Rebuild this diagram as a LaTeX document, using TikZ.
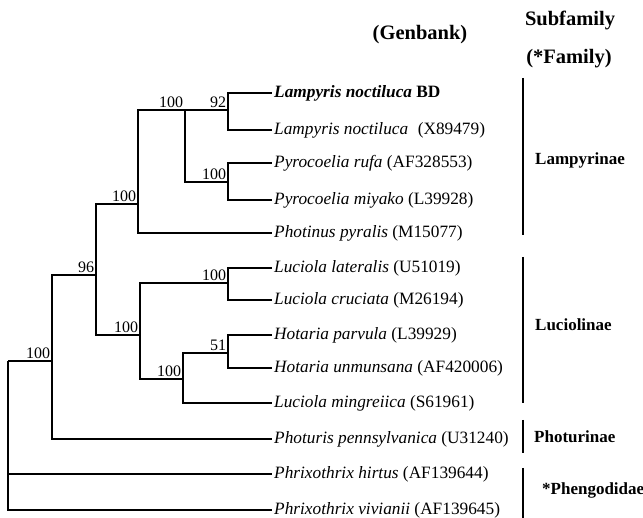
\documentclass[tikz,border=0pt]{standalone}
\usepackage{fontspec}
\setmainfont{Liberation Serif}
\tikzset{
  branch/.style={line width=1.7pt},
  taxon/.style={anchor=west, inner sep=2pt, font=\fontsize{17.3}{20}\selectfont\itshape},
  boot/.style={anchor=south east, inner sep=1pt, font=\fontsize{16}{18}\selectfont},
  cladebar/.style={line width=2.6pt},
  cladename/.style={anchor=west, inner sep=0pt, font=\fontsize{17}{20}\selectfont\bfseries},
  head/.style={font=\fontsize{20.5}{24}\selectfont\bfseries}
}
\begin{document}
\begin{tikzpicture}[x=1pt,y=-1pt]
\useasboundingbox (0,0) rectangle (643,518);

\coordinate (root) at (8,361);
\coordinate (n1) at (52,361);
\coordinate (n2) at (96,275);
\coordinate (lam) at (138,204);
\coordinate (n3) at (185,110);
\coordinate (n92) at (228,110);
\coordinate (pyr) at (228,182);
\coordinate (luc) at (140,335);
\coordinate (lat) at (228,283);
\coordinate (n4) at (183,379);
\coordinate (n51) at (228,353);

\node[taxon] (bd) at (272,93) {\bfseries Lampyris noctiluca \upshape BD};
\node[taxon] (x894) at (272,130) {Lampyris noctiluca \hspace{0.3em}\textup{(X89479)}};
\node[taxon] (rufa) at (272,163) {Pyrocoelia rufa \textup{(AF328553)}};
\node[taxon] (miyako) at (272,200) {Pyrocoelia miyako \textup{(L39928)}};
\node[taxon] (pyralis) at (272,233) {Photinus pyralis \textup{(M15077)}};
\node[taxon] (lateralis) at (272,268) {Luciola lateralis \textup{(U51019)}};
\node[taxon] (cruciata) at (272,300) {Luciola cruciata \textup{(M26194)}};
\node[taxon] (parvula) at (272,335) {Hotaria parvula \textup{(L39929)}};
\node[taxon] (unmunsana) at (272,368) {Hotaria unmunsana \textup{(AF420006)}};
\node[taxon] (mingreiica) at (272,403) {Luciola mingreiica \textup{(S61961)}};
\node[taxon] (pennsyl) at (272,439) {Photuris pennsylvanica \textup{(U31240)}};
\node[taxon] (hirtus) at (272,474) {Phrixothrix hirtus \textup{(AF139644)}};
\node[taxon] (vivianii) at (272,510) {Phrixothrix vivianii \textup{(AF139645)}};

\draw[branch] (root) |- node[boot, pos=1] (b1) {100} (n1);
\draw[branch] (root) |- (hirtus.west);
\draw[branch] (root) |- (vivianii.west);
\draw[branch] (n1) |- node[boot, pos=1] (b2) {96} (n2);
\draw[branch] (n1) |- (pennsyl.west);
\draw[branch] (n2) |- node[boot, pos=1] (b3) {100} (lam);
\draw[branch] (n2) |- node[boot, pos=1] (b4) {100} (luc);
\draw[branch] (lam) |- node[boot, pos=1] (b5) {100} (n3);
\draw[branch] (lam) |- (pyralis.west);
\draw[branch] (n3) |- node[boot, pos=1] (b6) {92} (n92);
\draw[branch] (n3) |- node[boot, pos=1] (b7) {100} (pyr);
\draw[branch] (n92) |- (bd.west);
\draw[branch] (n92) |- (x894.west);
\draw[branch] (pyr) |- (rufa.west);
\draw[branch] (pyr) |- (miyako.west);
\draw[branch] (luc) |- node[boot, pos=1] (b8) {100} (lat);
\draw[branch] (luc) |- node[boot, pos=1] (b9) {100} (n4);
\draw[branch] (lat) |- (lateralis.west);
\draw[branch] (lat) |- (cruciata.west);
\draw[branch] (n4) |- node[boot, pos=1] (b10) {51} (n51);
\draw[branch] (n4) |- (mingreiica.west);
\draw[branch] (n51) |- (parvula.west);
\draw[branch] (n51) |- (unmunsana.west);

\node[head] (genbank) at (420,35) {(Genbank)};
\node[head] (subfam) at (570,20) {Subfamily};
\node[head] (family) at (569,59) {(*Family)};

\coordinate (lamT) at (523,78);
\coordinate (lamB) at (523,235);
\coordinate (lucT) at (523,257);
\coordinate (lucB) at (523,403);
\coordinate (phoT) at (523,420);
\coordinate (phoB) at (523,453);
\coordinate (phgT) at (523,468);
\coordinate (phgB) at (523,518);
\draw[cladebar] (lamT) -- (lamB);
\draw[cladebar] (lucT) -- (lucB);
\draw[cladebar] (phoT) -- (phoB);
\draw[cladebar] (phgT) -- (phgB);
\node[cladename] (lampyrinae) at (535,160) {Lampyrinae};
\node[cladename] (luciolinae) at (535,325) {Luciolinae};
\node[cladename] (photurinae) at (534,437) {Photurinae};
\node[cladename] (phengodidae) at (542,490) {*Phengodidae};
\end{tikzpicture}
\end{document}
